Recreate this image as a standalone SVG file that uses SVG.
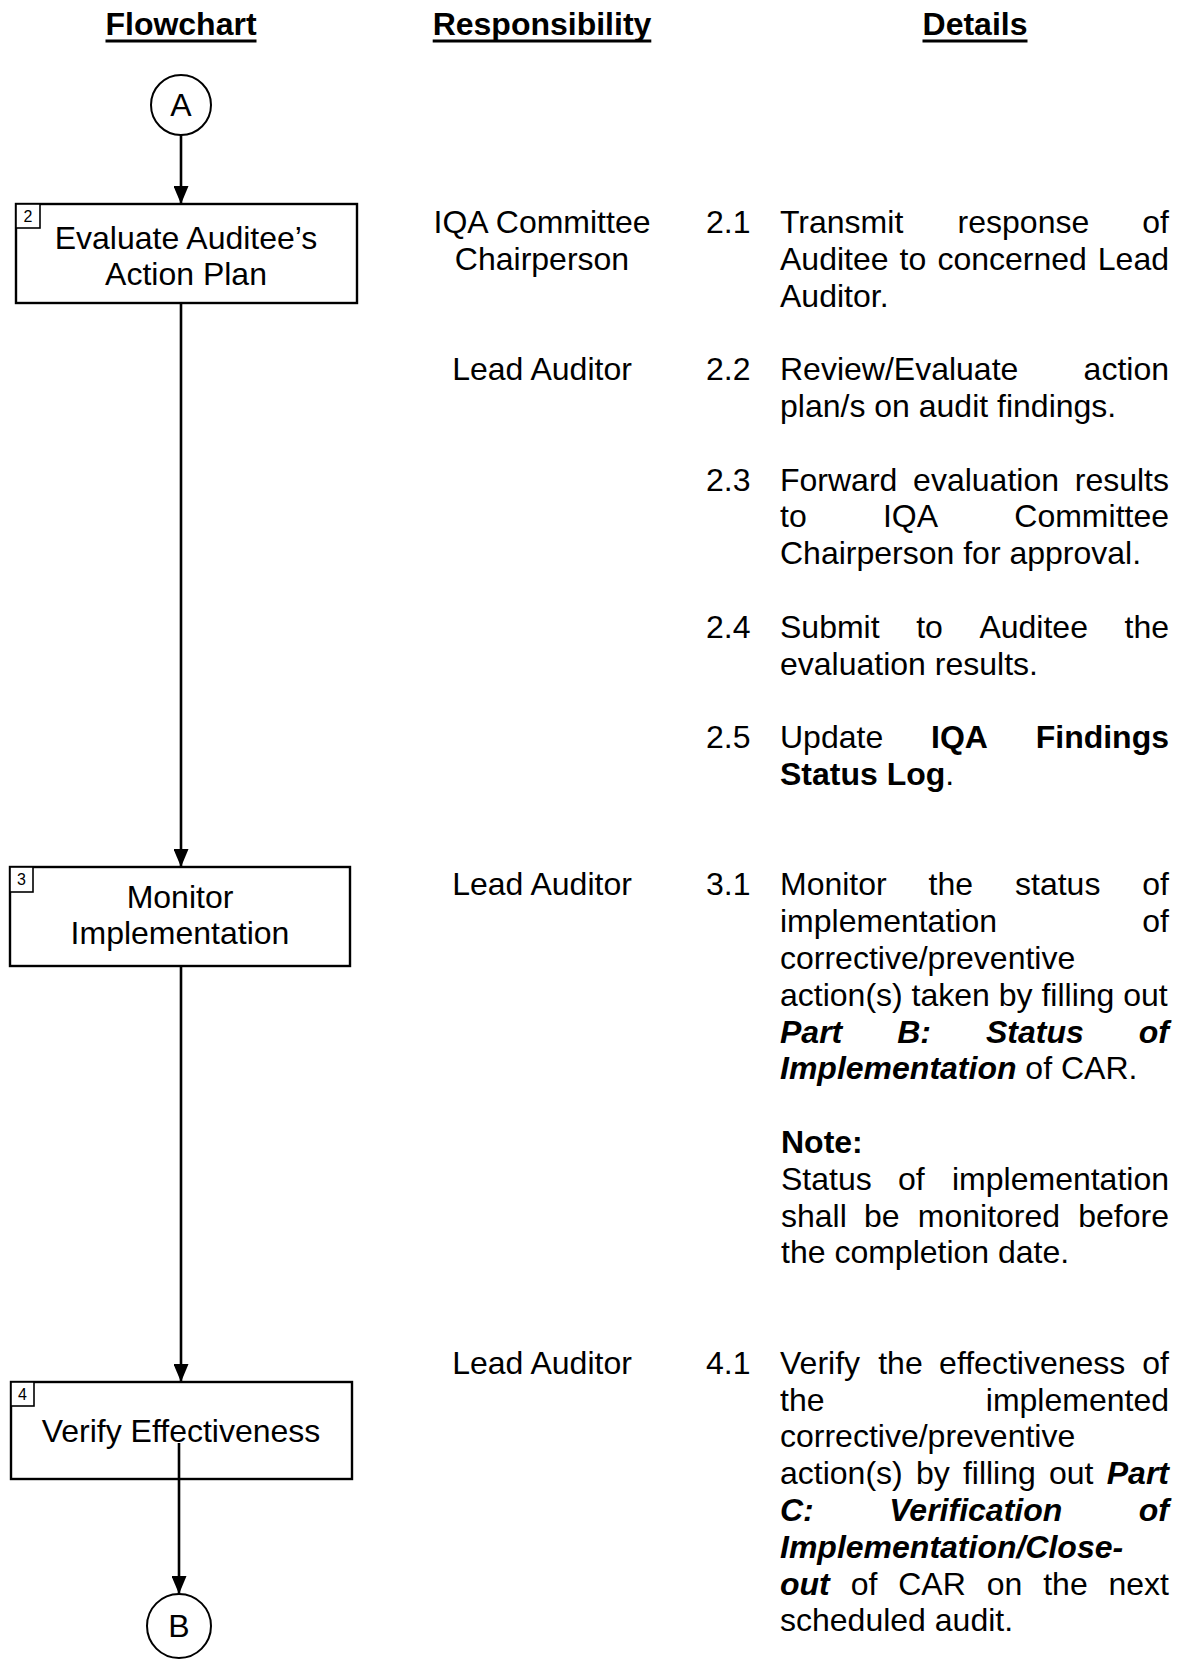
<svg xmlns="http://www.w3.org/2000/svg" width="1184" height="1662" viewBox="0 0 1184 1662">
<style>
text{font-family:"Liberation Sans",Arial,sans-serif;font-size:32px;fill:#000}
.h{font-weight:bold}
.ul{stroke:#000;stroke-width:3}
.c{text-anchor:middle}
.e{text-anchor:end}
.b{font-weight:bold}
.bi{font-weight:bold;font-style:italic}
.num{font-size:16px}
.box{fill:#fff;stroke:#000;stroke-width:2.4}
.nb{fill:#fff;stroke:#000;stroke-width:1.6}
.circ{fill:#fff;stroke:#000;stroke-width:2}
.conn{stroke:#000;stroke-width:2.6;fill:none}
</style>
<defs>
<marker id="arr" markerUnits="userSpaceOnUse" markerWidth="18" markerHeight="15" refX="18" refY="7.5" orient="auto">
<path d="M0,0 L18,7.5 L0,15 z" fill="#000"/>
</marker>
</defs>
<rect width="1184" height="1662" fill="#fff"/>

<g id="headers">
<text class="h c" x="181" y="35">Flowchart</text>
<text class="h c" x="542" y="35">Responsibility</text>
<text class="h c" x="975" y="35">Details</text>
<line class="ul" x1="105.5" y1="41" x2="256.5" y2="41"/>
<line class="ul" x1="432.7" y1="41" x2="651.3" y2="41"/>
<line class="ul" x1="922.5" y1="41" x2="1027.5" y2="41"/>
</g>

<g id="nodeA">
<circle class="circ" cx="181" cy="105" r="30"/>
<text class="c" x="181" y="116">A</text>
</g>

<g id="node2">
<rect class="box" x="16" y="204" width="341" height="99"/>
<rect class="nb" x="16" y="204" width="24" height="24"/>
<text class="num c" x="28" y="222">2</text>
<text class="c" x="186" y="249">Evaluate Auditee’s</text>
<text class="c" x="186" y="285">Action Plan</text>
</g>

<g id="node3">
<rect class="box" x="10" y="867" width="340" height="99"/>
<rect class="nb" x="10" y="867" width="23" height="25"/>
<text class="num c" x="21.5" y="885">3</text>
<text class="c" x="180" y="908">Monitor</text>
<text class="c" x="180" y="944">Implementation</text>
</g>

<g id="node4">
<rect class="box" x="11" y="1382" width="341" height="97"/>
<rect class="nb" x="11" y="1382" width="23" height="24"/>
<text class="num c" x="22.5" y="1400">4</text>
<text class="c" x="181" y="1442">Verify Effectiveness</text>
</g>

<g id="nodeB">
<circle class="circ" cx="179" cy="1626" r="32"/>
<text class="c" x="179" y="1637">B</text>
</g>

<g id="connectors">
<line class="conn" x1="181" y1="135" x2="181" y2="204" marker-end="url(#arr)"/>
<line class="conn" x1="181" y1="303" x2="181" y2="867" marker-end="url(#arr)"/>
<line class="conn" x1="181" y1="966" x2="181" y2="1382" marker-end="url(#arr)"/>
<line class="conn" x1="179" y1="1443" x2="179" y2="1594" marker-end="url(#arr)"/>
</g>

<g id="responsibility">
<text class="c" x="542" y="233">IQA Committee</text>
<text class="c" x="542" y="269.8">Chairperson</text>
<text class="c" x="542" y="380.2">Lead Auditor</text>
<text class="c" x="542" y="895.4">Lead Auditor</text>
<text class="c" x="542" y="1373.8">Lead Auditor</text>
</g>

<g id="details">
<text x="706" y="233">2.1</text>
<text x="780" y="233">Transmit</text><text x="957.6" y="233">response</text><text class="e" x="1169" y="233">of</text>
<text x="780" y="269.8">Auditee</text><text x="899.6" y="269.8">to</text><text x="937.4" y="269.8">concerned</text><text class="e" x="1169" y="269.8">Lead</text>
<text x="780" y="306.6">Auditor.</text>

<text x="706" y="380.2">2.2</text>
<text x="780" y="380.2">Review/Evaluate</text><text class="e" x="1169" y="380.2">action</text>
<text x="780" y="417">plan/s on audit findings.</text>

<text x="706" y="490.6">2.3</text>
<text x="780" y="490.6">Forward</text><text x="913.1" y="490.6">evaluation</text><text class="e" x="1169" y="490.6">results</text>
<text x="780" y="527.4">to</text><text x="882.9" y="527.4">IQA</text><text class="e" x="1169" y="527.4">Committee</text>
<text x="780" y="564.2">Chairperson for approval.</text>

<text x="706" y="637.8">2.4</text>
<text x="780" y="637.8">Submit</text><text x="916.2" y="637.8">to</text><text x="979.4" y="637.8">Auditee</text><text class="e" x="1169" y="637.8">the</text>
<text x="780" y="674.6">evaluation results.</text>

<text x="706" y="748.2">2.5</text>
<text x="780" y="748.2">Update</text><text class="b" x="931" y="748.2">IQA</text><text class="b e" x="1169" y="748.2">Findings</text>
<text x="780" y="785"><tspan class="b">Status Log</tspan>.</text>

<text x="706" y="895.4">3.1</text>
<text x="780" y="895.4">Monitor</text><text x="928.6" y="895.4">the</text><text x="1015" y="895.4">status</text><text class="e" x="1169" y="895.4">of</text>
<text x="780" y="932.2">implementation</text><text class="e" x="1169" y="932.2">of</text>
<text x="780" y="969">corrective/preventive</text>
<text x="780" y="1005.8">action(s) taken by filling out</text>
<text class="bi" x="780" y="1042.6">Part</text><text class="bi" x="897.2" y="1042.6">B:</text><text class="bi" x="986" y="1042.6">Status</text><text class="bi e" x="1169" y="1042.6">of</text>
<text x="780" y="1079.4"><tspan class="bi">Implementation</tspan> of CAR.</text>

<text class="b" x="781" y="1153">Note:</text>
<text x="781" y="1189.8">Status</text><text x="898" y="1189.8">of</text><text class="e" x="1169" y="1189.8">implementation</text>
<text x="781" y="1226.6">shall</text><text x="864" y="1226.6">be</text><text x="917.8" y="1226.6">monitored</text><text class="e" x="1169" y="1226.6">before</text>
<text x="781" y="1263.4">the completion date.</text>

<text x="706" y="1373.8">4.1</text>
<text x="780" y="1373.8">Verify</text><text x="878.2" y="1373.8">the</text><text x="939.1" y="1373.8">effectiveness</text><text class="e" x="1169" y="1373.8">of</text>
<text x="780" y="1410.6">the</text><text class="e" x="1169" y="1410.6">implemented</text>
<text x="780" y="1447.4">corrective/preventive</text>
<text x="780" y="1484.2">action(s)</text><text x="915.9" y="1484.2">by</text><text x="962.9" y="1484.2">filling</text><text x="1049" y="1484.2">out</text><text class="bi e" x="1169" y="1484.2">Part</text>
<text class="bi" x="780" y="1521">C:</text><text class="bi" x="889.2" y="1521">Verification</text><text class="bi e" x="1169" y="1521">of</text>
<text class="bi" x="780" y="1557.8">Implementation/Close-</text>
<text class="bi" x="780" y="1594.6">out</text><text x="850.7" y="1594.6">of</text><text x="898.2" y="1594.6">CAR</text><text x="986.7" y="1594.6">on</text><text x="1043.2" y="1594.6">the</text><text class="e" x="1169" y="1594.6">next</text>
<text x="780" y="1631.4">scheduled audit.</text>
</g>
</svg>
